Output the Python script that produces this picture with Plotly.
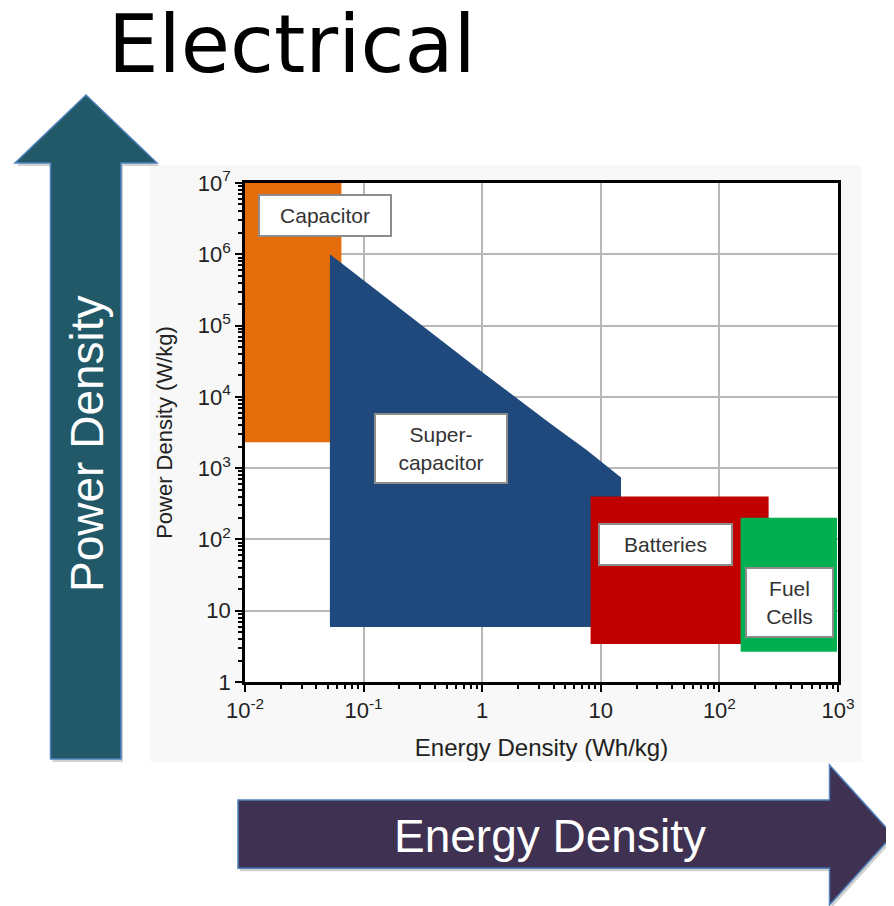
import plotly.graph_objects as go

# Ragone chart regions: energy density (Wh/kg) vs power density (W/kg)
cap_energy = [0.01, 0.065, 0.065, 0.01]
cap_power = [2300, 2300, 1e7, 1e7]

sc_energy = [0.052, 1.03, 3.7, 7.6, 14.8, 14.8, 0.052]
sc_power = [1e6, 2.15e4, 4300, 1800, 740, 5.9, 5.9]

bat_energy = [8.2, 260, 260, 8.2]
bat_power = [3.4, 3.4, 400, 400]

fc_energy = [151, 980, 980, 151]
fc_power = [2.66, 2.66, 201, 201]

x_ticks = [0.01, 0.1, 1, 10, 100, 1000]
x_labels = ['10<sup>-2</sup>', '10<sup>-1</sup>', '1', '10', '10<sup>2</sup>', '10<sup>3</sup>']
y_ticks = [1, 10, 100, 1e3, 1e4, 1e5, 1e6, 1e7]
y_labels = ['1', '10', '10<sup>2</sup>', '10<sup>3</sup>', '10<sup>4</sup>',
            '10<sup>5</sup>', '10<sup>6</sup>', '10<sup>7</sup>']

# box labels: text, log10 energy, log10 power, box width, box height
box_text = ['Capacitor', 'Super-<br>capacitor', 'Batteries', 'Fuel<br>Cells']
box_x = [-1.326, -0.345, 1.545, 2.591]
box_y = [6.55, 3.28, 1.935, 1.122]
box_w = [128, 128, 129, 83]
box_h = [37, 65, 37, 65]

FONT = 'Arial, Liberation Sans, sans-serif'

# plot area in screen pixels (the page body adds an 8px margin)
L, R, T, B = 245, 838, 183, 682
PAD = 8
W, H = 894 - PAD, 906 - PAD


def px(x):
    return (x - L) / (R - L)


def py(y):
    return (B - y) / (B - T)


def path(points):
    return 'M ' + ' L '.join(f'{px(a):.5f},{py(b):.5f}' for a, b in points) + ' Z'


fig = go.Figure()

regions = [
    ('Capacitor', cap_energy, cap_power, '#E46C0A'),
    ('Supercapacitor', sc_energy, sc_power, '#1F497D'),
    ('Batteries', bat_energy, bat_power, '#C00000'),
    ('Fuel Cells', fc_energy, fc_power, '#00B050'),
]
for name, ex, pw, col in regions:
    fig.add_trace(
        go.Scatter(
            name=name,
            x=ex,
            y=pw,
            mode='lines',
            line=dict(width=0, color=col),
            fill='toself',
            fillcolor=col,
            showlegend=False,
            hoverinfo='name'
        )
    )

# Arrows on the slide
up_arrow = [(86, 95), (157, 163), (121, 163), (121, 759), (50.5, 759), (50.5, 163), (15, 163)]
right_arrow = [(238, 800), (829.5, 800), (829.5, 765), (893, 835), (829.5, 905), (829.5, 868.3), (238, 868.3)]

shapes = [
    # faint background of the pasted chart picture, white inside the plot
    dict(type='rect', xref='paper', yref='paper', x0=px(150), x1=px(862), y0=py(762), y1=py(165),
         fillcolor='#f8f8f8', line=dict(width=0), layer='below'),
    dict(type='rect', xref='paper', yref='paper', x0=0, x1=1, y0=0, y1=1,
         fillcolor='white', line=dict(width=0), layer='below'),
]
for pts, col in [(up_arrow, '#215968'), (right_arrow, '#3F3151')]:
    shadow = [(a + 2, b + 3) for a, b in pts]
    shapes.append(dict(type='path', xref='paper', yref='paper', path=path(shadow),
                       fillcolor='rgba(0,0,0,0.18)', line=dict(width=0)))
    shapes.append(dict(type='path', xref='paper', yref='paper', path=path(pts),
                       fillcolor=col, line=dict(color='#4F81BD', width=1.5)))

annotations = []
for t, bx, by, w, h in zip(box_text, box_x, box_y, box_w, box_h):
    annotations.append(dict(
        x=bx, y=by, xref='x', yref='y', text=t, showarrow=False,
        width=w, height=h, bgcolor='white', bordercolor='#8c8c8c', borderwidth=2,
        font=dict(family=FONT, size=21, color='#333333')
    ))

annotations += [
    dict(x=px(106), y=py(44), xref='paper', yref='paper', xanchor='left', yanchor='middle',
         text='Electrical', showarrow=False,
         font=dict(family='DejaVu Sans, sans-serif', size=80, color='black')),
    dict(x=px(87), y=py(444), xref='paper', yref='paper', xanchor='center', yanchor='middle',
         text='Power Density', textangle=-90, showarrow=False,
         font=dict(family=FONT, size=46, color='white')),
    dict(x=px(550), y=py(836), xref='paper', yref='paper', xanchor='center', yanchor='middle',
         text='Energy Density', showarrow=False,
         font=dict(family=FONT, size=46, color='white')),
]

fig.update_layout(
    width=W,
    height=H,
    margin=dict(l=L - PAD, r=894 - R, t=T - PAD, b=906 - B),
    paper_bgcolor='white',
    plot_bgcolor='white',
    shapes=shapes,
    annotations=annotations,
    font=dict(family=FONT, size=22, color='#222222'),

    xaxis=dict(
        type='log',
        range=[-2, 3],
        tickvals=x_ticks,
        ticktext=x_labels,
        ticks='outside',
        ticklen=7,
        tickwidth=2,
        tickcolor='black',
        showline=True,
        linecolor='black',
        linewidth=2.5,
        mirror=True,
        showgrid=True,
        gridcolor='#b8b8b8',
        gridwidth=1.5,
        zeroline=False,
        minor=dict(dtick='D1', ticks='outside', ticklen=4, tickwidth=1.5, tickcolor='black', showgrid=False),
        title=dict(text='Energy Density (Wh/kg)', font=dict(size=24), standoff=18)
    ),

    yaxis=dict(
        type='log',
        range=[0, 7],
        tickvals=y_ticks,
        ticktext=y_labels,
        ticks='outside',
        ticklen=7,
        tickwidth=2,
        tickcolor='black',
        showline=True,
        linecolor='black',
        linewidth=2.5,
        mirror=True,
        showgrid=True,
        gridcolor='#b8b8b8',
        gridwidth=1.5,
        zeroline=False,
        minor=dict(dtick='D1', ticks='outside', ticklen=4, tickwidth=1.5, tickcolor='black', showgrid=False),
        title=dict(text='Power Density (W/kg)', font=dict(size=22), standoff=20)
    )
)

fig.write_html('out.html')
